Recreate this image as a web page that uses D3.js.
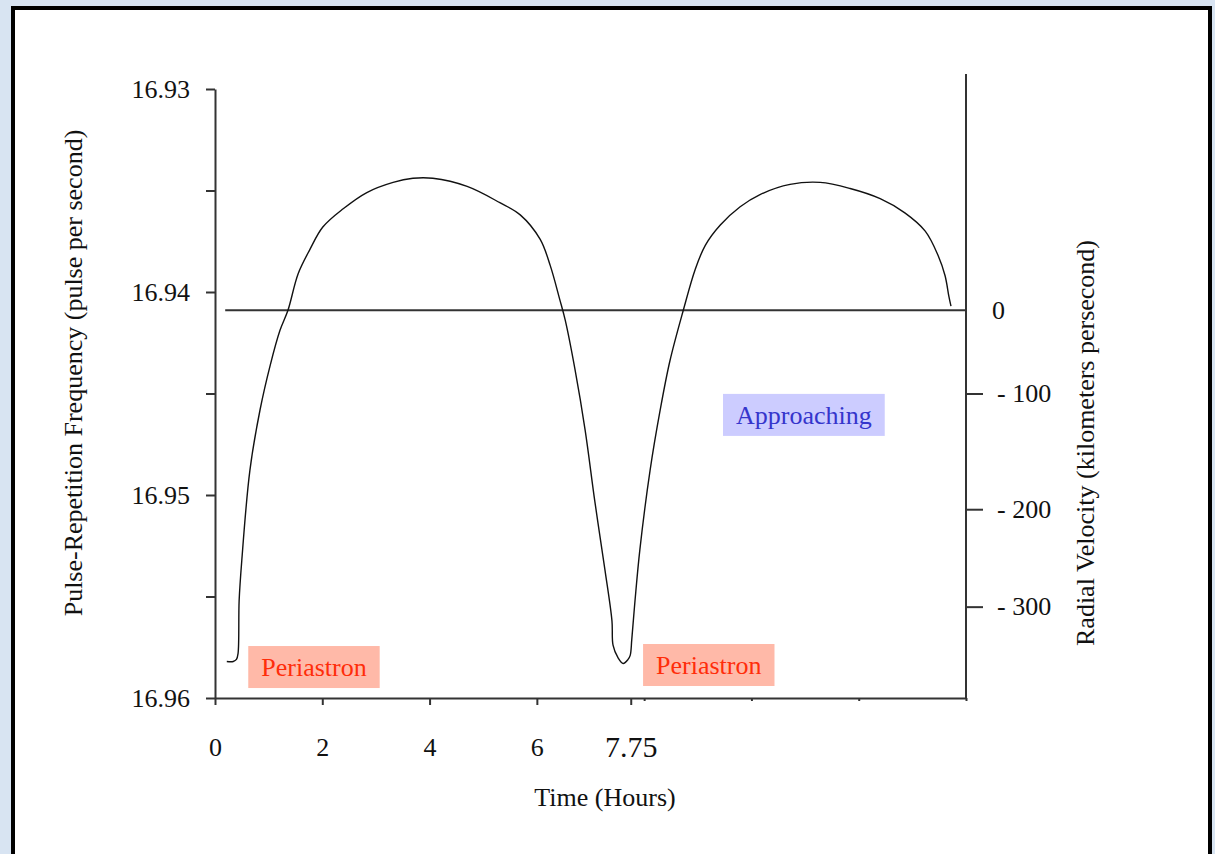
<!DOCTYPE html>
<html>
<head>
<meta charset="utf-8">
<script src="https://cdn.jsdelivr.net/npm/d3@7/dist/d3.min.js"></script>
<style>
  html, body { margin: 0; padding: 0; background: #d8e4f2; }
  svg { display: block; }
  text { font-family: "Liberation Serif", "Times New Roman", serif; fill: #111; }
</style>
</head>
<body>
<svg id="chart" width="1215" height="854"></svg>
<script>
// Pulse frequency of the binary pulsar over one orbit (time in hours)
const timeHours = [0.22, 0.34, 0.40, 0.43, 0.45, 0.50, 0.65, 0.84, 1.03, 1.21, 1.36, 1.55, 1.77, 2.01, 2.39, 2.83, 3.32, 3.69, 4.06, 4.70, 5.31, 5.69, 6.06, 6.25, 6.43, 6.53, 6.71, 6.90, 7.08, 7.27, 7.40, 7.42, 7.51, 7.61, 7.70, 7.74, 7.77, 7.83, 7.92, 8.11, 8.30, 8.48, 8.73, 8.95, 9.14, 9.42, 9.79, 10.16, 10.72, 11.28, 11.84, 12.40, 12.86, 13.24, 13.48, 13.61, 13.68, 13.72];
const pulseFreq = [16.9582, 16.9582, 16.9581, 16.9578, 16.9552, 16.9532, 16.9488, 16.9458, 16.9436, 16.9419, 16.9409, 16.9391, 16.9379, 16.9368, 16.9359, 16.9351, 16.9346, 16.9344, 16.9344, 16.9348, 16.9356, 16.9362, 16.9374, 16.9387, 16.9404, 16.9414, 16.9438, 16.9468, 16.9503, 16.9537, 16.9562, 16.9574, 16.9580, 16.9583, 16.9581, 16.9579, 16.9571, 16.9552, 16.9527, 16.9488, 16.9458, 16.9434, 16.9409, 16.9389, 16.9377, 16.9367, 16.9358, 16.9352, 16.9347, 16.9346, 16.9349, 16.9354, 16.9361, 16.9370, 16.9382, 16.9392, 16.9402, 16.9407];

// Axis ticks
const timeMajorTicks = [0, 2, 4, 6];
const timeMarkedTick = [7.75];
const timeMinorTicks = [8, 10, 12, 14];
const freqTicks = [16.93, 16.935, 16.94, 16.945, 16.95, 16.955, 16.96];
const freqLabelTicks = [16.93, 16.94, 16.95, 16.96];

// Radial velocity (km/s) and the pulse frequency it lines up with on the right axis
const velocityTicks = [0, -100, -200, -300];
const velocityFreq = [16.9409, 16.9450, 16.9507, 16.9555];
const zeroLineStart = 0.19; // hours

// Annotations, placed by the top-left corner of their box (time, frequency)
const annotations = [
  { text: "Periastron", t: 0.62, f: 16.95744, fill: "#ffb9a8", color: "#ff2d0a" },
  { text: "Periastron", t: 7.98, f: 16.95734, fill: "#ffb9a8", color: "#ff2d0a" },
  { text: "Approaching", t: 9.47, f: 16.94502, fill: "#ccccff", color: "#3535cc" }
];

const svg = d3.select("#chart");

// Framed white panel
svg.append("rect").attr("x", 0).attr("y", 0).attr("width", 1215).attr("height", 854).attr("fill", "#d8e4f2");
svg.append("rect").attr("x", 13).attr("y", 8).attr("width", 1197).attr("height", 860)
  .attr("fill", "#fff").attr("stroke", "#000").attr("stroke-width", 4);

const x = d3.scaleLinear().domain([0, 14]).range([215, 966]);
const y = d3.scaleLinear().domain([16.93, 16.96]).range([89, 698]);
const v = d3.scaleLinear().domain(velocityTicks).range(velocityFreq.map(y));

const axisColor = "#333";

// Left axis
const gLeft = svg.append("g").attr("transform", `translate(${x(0)},0)`)
  .call(d3.axisLeft(y).tickValues(freqTicks).tickSize(9).tickSizeOuter(0).tickPadding(16)
    .tickFormat(d => freqLabelTicks.some(t => Math.abs(t - d) < 1e-9) ? d3.format(".2f")(d) : ""));

// Bottom axis: labelled ticks, the marked 7.75 h tick, and small unlabelled ticks
const gBottom = svg.append("g").attr("transform", `translate(0,${y(16.96)})`)
  .call(d3.axisBottom(x).tickValues(timeMajorTicks).tickSize(7).tickSizeOuter(0).tickPadding(33)
    .tickFormat(d3.format("d")));
const gMarked = svg.append("g").attr("transform", `translate(0,${y(16.96)})`)
  .call(d3.axisBottom(x).tickValues(timeMarkedTick).tickSize(7).tickSizeOuter(0).tickPadding(31)
    .tickFormat(d3.format(".2f")));
gMarked.select(".domain").remove();
const gMinor = svg.append("g").attr("transform", `translate(0,${y(16.96)})`)
  .call(d3.axisBottom(x).tickValues(timeMinorTicks).tickSize(3).tickSizeOuter(0).tickFormat(""));
gMinor.select(".domain").remove();

// Right axis: radial velocity
const gRight = svg.append("g").attr("transform", `translate(${x(14)},0)`)
  .call(d3.axisRight(v).tickValues(velocityTicks.slice(1)).tickSize(17).tickSizeOuter(0).tickPadding(14)
    .tickFormat(d => "- " + Math.abs(d)));
gRight.select(".domain").remove();
svg.append("line").attr("x1", x(14)).attr("x2", x(14))
  .attr("y1", y(16.93) - 15).attr("y2", y(16.96))
  .attr("stroke", axisColor).attr("stroke-width", 2);
svg.append("text").attr("x", x(14) + 26).attr("y", v(0)).attr("dy", "0.33em")
  .attr("font-size", 26).text("0");

[gLeft, gBottom, gMarked, gMinor, gRight].forEach(g => {
  g.selectAll("path, line").attr("stroke", axisColor).attr("stroke-width", 2);
  g.selectAll("text").attr("font-family", "Liberation Serif, Times New Roman, serif")
    .attr("fill", "#111").attr("font-size", 26);
});
gMarked.selectAll("text").attr("font-size", 30);

// Zero radial velocity line
svg.append("line").attr("x1", x(zeroLineStart)).attr("x2", x(14))
  .attr("y1", v(0)).attr("y2", v(0))
  .attr("stroke", axisColor).attr("stroke-width", 2);

// Frequency curve
const pts = timeHours.map((t, i) => [t, pulseFreq[i]]);
svg.append("path").datum(pts)
  .attr("d", d3.line().x(d => x(d[0])).y(d => y(d[1])).curve(d3.curveCatmullRom.alpha(0.5)))
  .attr("fill", "none").attr("stroke", "#111").attr("stroke-width", 1.4);

// Annotation boxes
annotations.forEach(a => {
  const g = svg.append("g").attr("transform", `translate(${x(a.t)},${y(a.f)})`);
  const txt = g.append("text").attr("font-size", 26)
    .attr("fill", a.color).style("fill", a.color).text(a.text);
  const w = txt.node().getComputedTextLength();
  g.insert("rect", "text").attr("x", 0).attr("y", 0).attr("width", w + 26).attr("height", 42)
    .attr("fill", a.fill);
  txt.attr("x", 13).attr("y", 30);
});

// Axis titles
svg.append("text").attr("x", 605).attr("y", 806).attr("text-anchor", "middle")
  .attr("font-size", 26).text("Time (Hours)");
svg.append("text").attr("transform", "translate(82,373) rotate(-90)").attr("text-anchor", "middle")
  .attr("font-size", 26).text("Pulse-Repetition Frequency (pulse per second)");
svg.append("text").attr("transform", "translate(1094,443) rotate(-90)").attr("text-anchor", "middle")
  .attr("font-size", 26).text("Radial Velocity (kilometers persecond)");
</script>
</body>
</html>
